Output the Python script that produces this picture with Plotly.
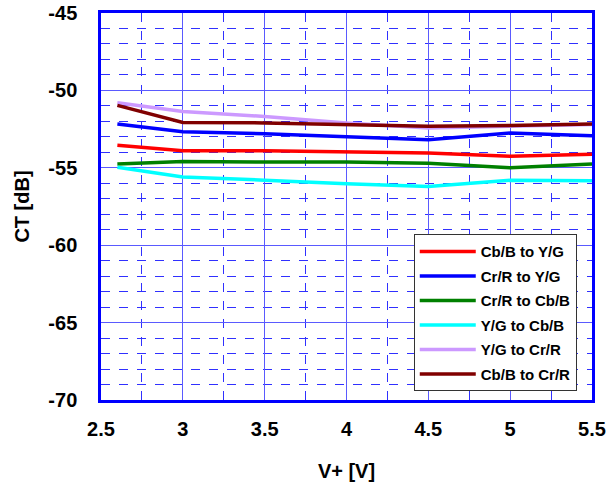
import plotly.graph_objects as go

x_vals = [2.6, 3.0, 3.5, 4.0, 4.5, 5.0, 5.5]
series_names = ["Cb/B to Y/G", "Cr/R to Y/G", "Cr/R to Cb/B", "Y/G to Cb/B", "Y/G to Cr/R", "Cb/B to Cr/R"]
cb_to_yg = [-53.55, -53.9, -53.9, -53.96, -54.05, -54.26, -54.13]
cr_to_yg = [-52.17, -52.67, -52.8, -52.97, -53.18, -52.75, -52.93]
cr_to_cb = [-54.76, -54.6, -54.63, -54.63, -54.7, -55.0, -54.76]
yg_to_cb = [-54.97, -55.6, -55.8, -56.03, -56.2, -55.81, -55.83]
yg_to_cr = [-50.8, -51.36, -51.68, -52.1, -52.43, -52.3, -52.2]
cb_to_cr = [-50.97, -52.07, -52.1, -52.2, -52.32, -52.26, -52.17]
colors = ["#ff0000", "#0000ff", "#008000", "#00ffff", "#cc99ff", "#800000"]
x_ticks = [2.5, 3, 3.5, 4, 4.5, 5, 5.5]
x_tick_labels = ["2.5", "3", "3.5", "4", "4.5", "5", "5.5"]
y_ticks = [-70, -65, -60, -55, -50, -45]
y_tick_labels = ["-70", "-65", "-60", "-55", "-50", "-45"]

all_series = [cb_to_yg, cr_to_yg, cr_to_cb, yg_to_cb, yg_to_cr, cb_to_cr]

fig = go.Figure()
for i, (name, ys) in enumerate(zip(series_names, all_series)):
    fig.add_trace(go.Scatter(x=x_vals, y=ys, mode="lines", name=name,
                             legendgroup=f"g{i}",
                             line=dict(color=colors[i], width=3.5)))

font_family = "Liberation Sans, Arial, sans-serif"
grid_major = "#5a5aff"
grid_minor = "#3030ff"
fig.update_layout(
    width=616, height=484,
    margin=dict(l=101, r=24, t=13, b=84),
    plot_bgcolor="white", paper_bgcolor="white",
    font=dict(family=font_family, size=18, color="black"),
    showlegend=True,
    legend=dict(x=0.637, y=0.428, xanchor="left", yanchor="top",
                bgcolor="white", bordercolor="#333333", borderwidth=1,
                font=dict(family=font_family, size=15, color="black", weight="bold"),
                tracegroupgap=2, itemwidth=56),
)
fig.update_xaxes(
    range=[2.5, 5.5], tickvals=x_ticks, ticktext=x_tick_labels,
    showline=True, linecolor="#0000ff", linewidth=2.5, mirror=True,
    showgrid=True, gridcolor=grid_major, gridwidth=1,
    minor=dict(dtick=0.25, showgrid=True, gridcolor=grid_minor, griddash="dash", gridwidth=1),
    ticks="", ticklabelstandoff=9, automargin=False,
    tickfont=dict(size=20, weight="bold"),
    title=dict(text="V+ [V]", font=dict(size=20, weight="bold"), standoff=26),
    zeroline=False,
)
fig.update_yaxes(
    range=[-70, -45], tickvals=y_ticks, ticktext=y_tick_labels,
    showline=True, linecolor="#0000ff", linewidth=2.5, mirror=True,
    showgrid=True, gridcolor=grid_major, gridwidth=1,
    minor=dict(dtick=1, showgrid=True, gridcolor=grid_minor, griddash="dash", gridwidth=1),
    ticks="", ticklabelstandoff=17, automargin=False,
    tickfont=dict(size=20, weight="bold"),
    title=dict(text="CT [dB]", font=dict(size=20, weight="bold"), standoff=14),
    zeroline=False,
)
fig.write_html("out.html")
